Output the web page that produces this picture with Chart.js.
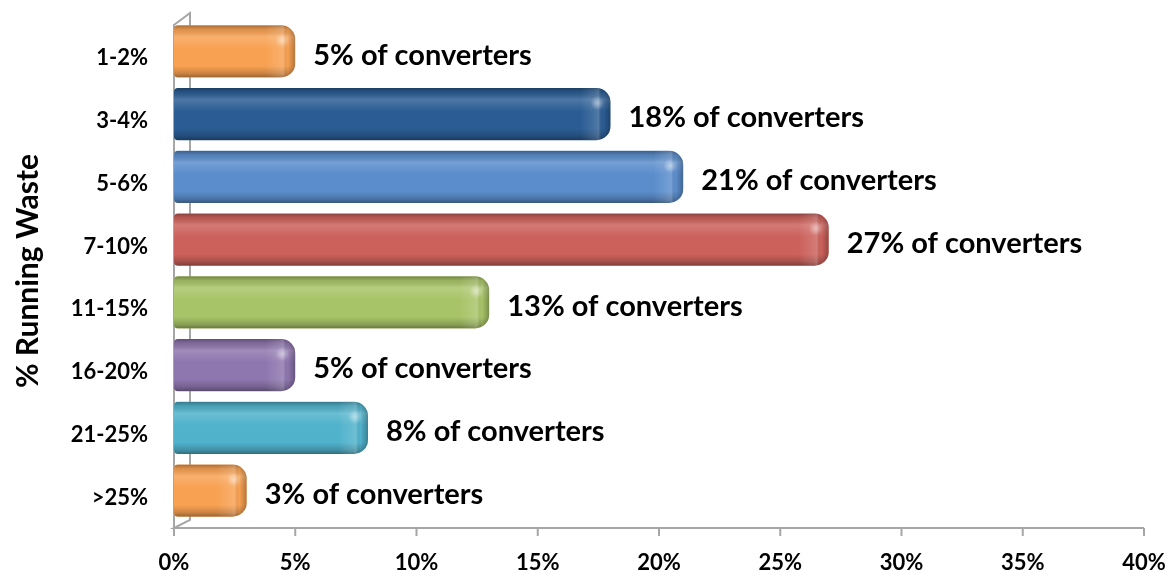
<!DOCTYPE html>
<html>
<head>
<meta charset="utf-8">
<script src="https://cdn.jsdelivr.net/npm/chart.js@4"></script>
<style>
  html, body { margin: 0; padding: 0; background: #fff; }
  #wrap { width: 1174px; height: 576px; }
</style>
</head>
<body>
<div id="wrap"><canvas id="wasteChart"></canvas></div>
<script>
// running waste bands and share of converters in each
const categories = ["1-2%", "3-4%", "5-6%", "7-10%", "11-15%", "16-20%", "21-25%", ">25%"];
const converterShare = [5, 18, 21, 27, 13, 5, 8, 3];
const barColors = ["#F8A152", "#2B5D94", "#5B8DCC", "#CC615B", "#A8C468", "#8E76AE", "#50B2CB", "#F8A152"];
const xTicks = [0, 5, 10, 15, 20, 25, 30, 35, 40];

const FONT = "Lato";
const frameColor = "#A6A6A6";

// side wall, floor and tick marks drawn behind the bars
const framePlugin = {
  id: "frame",
  beforeDatasetsDraw(chart) {
    const { ctx, chartArea, scales } = chart;
    const l = chartArea.left, d = 16;
    const top = chartArea.top + 5, floor = chartArea.bottom + 6;
    ctx.save();
    ctx.strokeStyle = frameColor;
    ctx.lineWidth = 2;
    ctx.beginPath();
    ctx.moveTo(l, floor);
    ctx.lineTo(l, top);
    ctx.lineTo(l + d, top - 12);
    ctx.lineTo(l + d, floor - 8);
    ctx.lineTo(l, floor);
    ctx.lineTo(chartArea.right, floor);
    xTicks.forEach(function (t) {
      const px = scales.x.getPixelForValue(t);
      ctx.moveTo(px, floor);
      ctx.lineTo(px, floor + 8);
    });
    ctx.stroke();
    ctx.restore();
  }
};

// rounded glossy shading over each bar plus the value label
const barStylePlugin = {
  id: "barStyle",
  afterDatasetsDraw(chart) {
    const { ctx } = chart;
    const meta = chart.getDatasetMeta(0);
    meta.data.forEach(function (bar, i) {
      const p = bar.getProps(["x", "y", "base", "height"], true);
      const top = p.y - p.height / 2;
      const w = p.x - p.base;
      const path = new Path2D();
      path.roundRect(p.base, top, w, p.height, [4, 14, 14, 4]);

      ctx.save();
      ctx.clip(path);
      const vg = ctx.createLinearGradient(0, top, 0, top + p.height);
      vg.addColorStop(0, "rgba(0,0,0,0.32)");
      vg.addColorStop(0.08, "rgba(0,0,0,0.10)");
      vg.addColorStop(0.22, "rgba(255,255,255,0.16)");
      vg.addColorStop(0.45, "rgba(255,255,255,0)");
      vg.addColorStop(0.78, "rgba(0,0,0,0)");
      vg.addColorStop(0.92, "rgba(0,0,0,0.18)");
      vg.addColorStop(1, "rgba(0,0,0,0.38)");
      ctx.fillStyle = vg;
      ctx.fill(path);

      const hg = ctx.createLinearGradient(p.x - 30, 0, p.x, 0);
      hg.addColorStop(0, "rgba(255,255,255,0)");
      hg.addColorStop(0.45, "rgba(255,255,255,0.12)");
      hg.addColorStop(0.6, "rgba(255,255,255,0.18)");
      hg.addColorStop(0.75, "rgba(0,0,0,0)");
      hg.addColorStop(1, "rgba(0,0,0,0.28)");
      ctx.fillStyle = hg;
      ctx.fillRect(p.x - 30, top, 30, p.height);

      const rg = ctx.createRadialGradient(p.x - 13, top + 15, 0, p.x - 13, top + 15, 7);
      rg.addColorStop(0, "rgba(255,255,255,0.45)");
      rg.addColorStop(1, "rgba(255,255,255,0)");
      ctx.fillStyle = rg;
      ctx.fillRect(p.x - 22, top + 6, 18, 18);
      ctx.restore();

      ctx.save();
      ctx.fillStyle = "#000";
      ctx.font = "bold 29px " + FONT;
      ctx.textAlign = "left";
      ctx.textBaseline = "middle";
      ctx.fillText(converterShare[i] + "% of converters", p.x + 18, p.y + 4);
      ctx.restore();
    });
  }
};

const ctx = document.getElementById("wasteChart").getContext("2d");
new Chart(ctx, {
  type: "bar",
  data: {
    labels: categories,
    datasets: [
      {
        data: converterShare,
        backgroundColor: barColors,
        borderWidth: 0,
        borderSkipped: false,
        borderRadius: { topLeft: 4, bottomLeft: 4, topRight: 14, bottomRight: 14 },
        barPercentage: 0.83,
        categoryPercentage: 1
      }
    ]
  },
  options: {
    indexAxis: "y",
    responsive: true,
    maintainAspectRatio: false,
    animation: false,
    layout: { padding: { top: 20, right: 30, bottom: 0, left: 0 } },
    plugins: {
      legend: { display: false },
      tooltip: { enabled: false }
    },
    scales: {
      x: {
        min: 0,
        max: 40,
        afterFit(scale) {
          scale.height = 54;
          scale.paddingLeft = 0;
          scale.paddingRight = 0;
        },
        afterBuildTicks(scale) { scale.ticks = xTicks.map(function (v) { return { value: v }; }); },
        grid: { display: false, drawTicks: false },
        border: { display: false },
        ticks: {
          padding: 28,
          color: "#000",
          font: { family: FONT, size: 22, weight: "bold" },
          callback: function (v) { return v + "%"; }
        }
      },
      y: {
        afterFit(scale) {
          scale.width = 174;
          scale.paddingTop = 0;
          scale.paddingBottom = 0;
        },
        grid: { display: false, drawTicks: false },
        border: { display: false },
        ticks: {
          padding: 26,
          labelOffset: 7,
          color: "#000",
          font: { family: FONT, size: 22, weight: "bold" }
        },
        title: {
          display: true,
          text: "% Running Waste",
          color: "#000",
          padding: { top: 10, bottom: 0 },
          font: { family: FONT, size: 30, weight: "bold" }
        }
      }
    }
  },
  plugins: [framePlugin, barStylePlugin]
});
</script>
</body>
</html>
